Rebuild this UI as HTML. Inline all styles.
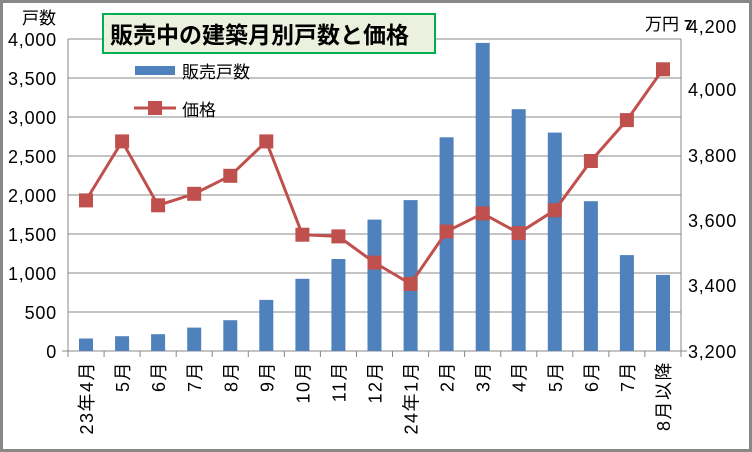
<!DOCTYPE html>
<html><head><meta charset="utf-8"><style>
body{margin:0;background:#fff}
svg{display:block;font-family:"Liberation Sans","Noto Sans CJK JP",sans-serif}
</style></head><body>
<svg width="752" height="452" viewBox="0 0 752 452">
<rect x="1.5" y="1.5" width="749" height="449" fill="#fff" stroke="#888" stroke-width="3"/>
<g stroke="#888" stroke-width="1">
<line x1="68" y1="39" x2="681" y2="39"/><line x1="68" y1="78" x2="681" y2="78"/>
<line x1="68" y1="117" x2="681" y2="117"/><line x1="68" y1="156" x2="681" y2="156"/>
<line x1="68" y1="195" x2="681" y2="195"/><line x1="68" y1="234" x2="681" y2="234"/>
<line x1="68" y1="273" x2="681" y2="273"/><line x1="68" y1="312" x2="681" y2="312"/>
<line x1="68" y1="351" x2="681" y2="351"/>
<line x1="68" y1="39" x2="68" y2="351"/><line x1="681" y1="39" x2="681" y2="351"/>
<line x1="62" y1="351" x2="68" y2="351"/><line x1="681" y1="351" x2="687" y2="351"/>
<line x1="68" y1="351" x2="68" y2="357"/><line x1="104.1" y1="351" x2="104.1" y2="357"/>
<line x1="140.1" y1="351" x2="140.1" y2="357"/><line x1="176.2" y1="351" x2="176.2" y2="357"/>
<line x1="212.2" y1="351" x2="212.2" y2="357"/><line x1="248.3" y1="351" x2="248.3" y2="357"/>
<line x1="284.4" y1="351" x2="284.4" y2="357"/><line x1="320.4" y1="351" x2="320.4" y2="357"/>
<line x1="356.5" y1="351" x2="356.5" y2="357"/><line x1="392.5" y1="351" x2="392.5" y2="357"/>
<line x1="428.6" y1="351" x2="428.6" y2="357"/><line x1="464.6" y1="351" x2="464.6" y2="357"/>
<line x1="500.7" y1="351" x2="500.7" y2="357"/><line x1="536.8" y1="351" x2="536.8" y2="357"/>
<line x1="572.8" y1="351" x2="572.8" y2="357"/><line x1="608.9" y1="351" x2="608.9" y2="357"/>
<line x1="644.9" y1="351" x2="644.9" y2="357"/><line x1="681" y1="351" x2="681" y2="357"/>
</g>
<g fill="#4f81bd">
<rect x="79" y="338.5" width="14" height="12.5"/>
<rect x="115.1" y="336.2" width="14" height="14.8"/>
<rect x="151.1" y="334.2" width="14" height="16.8"/>
<rect x="187.2" y="327.6" width="14" height="23.4"/>
<rect x="223.3" y="320.2" width="14" height="30.8"/>
<rect x="259.3" y="299.9" width="14" height="51.1"/>
<rect x="295.4" y="278.8" width="14" height="72.2"/>
<rect x="331.4" y="259" width="14" height="92"/>
<rect x="367.5" y="219.6" width="14" height="131.4"/>
<rect x="403.6" y="200.1" width="14" height="150.9"/>
<rect x="439.6" y="137.3" width="14" height="213.7"/>
<rect x="475.7" y="42.9" width="14" height="308.1"/>
<rect x="511.7" y="109.2" width="14" height="241.8"/>
<rect x="547.8" y="132.6" width="14" height="218.4"/>
<rect x="583.9" y="201.2" width="14" height="149.8"/>
<rect x="619.9" y="255.1" width="14" height="95.9"/>
<rect x="656" y="274.9" width="14" height="76.1"/>
</g>
<polyline fill="none" stroke="#c0504d" stroke-width="3" points="86,200.4 122.1,141.4 158.1,205.3 194.2,193.8 230.3,175.8 266.3,141.4 302.4,234.7 338.4,236.4 374.5,262.6 410.6,283.9 446.6,231.5 482.7,213.4 518.7,233.1 554.8,210.2 590.9,161 626.9,120.1 663,69.3"/>
<g fill="#c0504d">
<rect x="79" y="193.4" width="14" height="14"/>
<rect x="115.1" y="134.4" width="14" height="14"/>
<rect x="151.1" y="198.3" width="14" height="14"/>
<rect x="187.2" y="186.8" width="14" height="14"/>
<rect x="223.3" y="168.8" width="14" height="14"/>
<rect x="259.3" y="134.4" width="14" height="14"/>
<rect x="295.4" y="227.7" width="14" height="14"/>
<rect x="331.4" y="229.4" width="14" height="14"/>
<rect x="367.5" y="255.6" width="14" height="14"/>
<rect x="403.6" y="276.9" width="14" height="14"/>
<rect x="439.6" y="224.5" width="14" height="14"/>
<rect x="475.7" y="206.4" width="14" height="14"/>
<rect x="511.7" y="226.1" width="14" height="14"/>
<rect x="547.8" y="203.2" width="14" height="14"/>
<rect x="583.9" y="154" width="14" height="14"/>
<rect x="619.9" y="113.1" width="14" height="14"/>
<rect x="656" y="62.3" width="14" height="14"/>
</g>
<g font-size="18" fill="#000" text-anchor="end" letter-spacing="0.8">
<text x="57" y="46">4,000</text><text x="57" y="85">3,500</text><text x="57" y="124">3,000</text>
<text x="57" y="163">2,500</text><text x="57" y="202">2,000</text><text x="57" y="241">1,500</text>
<text x="57" y="280">1,000</text><text x="57" y="319">500</text><text x="57" y="358">0</text>
</g>
<g font-size="18" fill="#000" letter-spacing="0.8">
<text x="688" y="33">4,200</text><text x="688" y="96">4,000</text><text x="688" y="162">3,800</text>
<text x="688" y="227">3,600</text><text x="688" y="292">3,400</text><text x="688" y="358">3,200</text>
</g>
<text x="22" y="24" font-size="17">戸数</text>
<text x="645" y="30" font-size="17">万円</text><text x="684" y="30" font-size="15" font-weight="bold">7</text>
<rect x="103" y="14" width="332" height="39" fill="#ebf1de" stroke="#00b050" stroke-width="2"/>
<text x="110" y="43" font-size="23" font-weight="bold">販売中の建築月別戸数と価格</text>
<rect x="135" y="66" width="40" height="9" fill="#4f81bd"/>
<text x="182" y="78" font-size="17">販売戸数</text>
<line x1="134" y1="108" x2="176" y2="108" stroke="#c0504d" stroke-width="3"/>
<rect x="148" y="101" width="14" height="14" fill="#c0504d"/>
<text x="182" y="116" font-size="17">価格</text>
<g font-size="18" fill="#000" text-anchor="end" letter-spacing="1.5">
<text transform="translate(93,361) rotate(-90)">23年4月</text>
<text transform="translate(129.1,361) rotate(-90)">5月</text>
<text transform="translate(165.1,361) rotate(-90)">6月</text>
<text transform="translate(201.2,361) rotate(-90)">7月</text>
<text transform="translate(237.3,361) rotate(-90)">8月</text>
<text transform="translate(273.3,361) rotate(-90)">9月</text>
<text transform="translate(309.4,361) rotate(-90)">10月</text>
<text transform="translate(345.4,361) rotate(-90)">11月</text>
<text transform="translate(381.5,361) rotate(-90)">12月</text>
<text transform="translate(417.6,361) rotate(-90)">24年1月</text>
<text transform="translate(453.6,361) rotate(-90)">2月</text>
<text transform="translate(489.7,361) rotate(-90)">3月</text>
<text transform="translate(525.7,361) rotate(-90)">4月</text>
<text transform="translate(561.8,361) rotate(-90)">5月</text>
<text transform="translate(597.9,361) rotate(-90)">6月</text>
<text transform="translate(633.9,361) rotate(-90)">7月</text>
<text transform="translate(670,361) rotate(-90)">8月以降</text>
</g>
</svg>
</body></html>
